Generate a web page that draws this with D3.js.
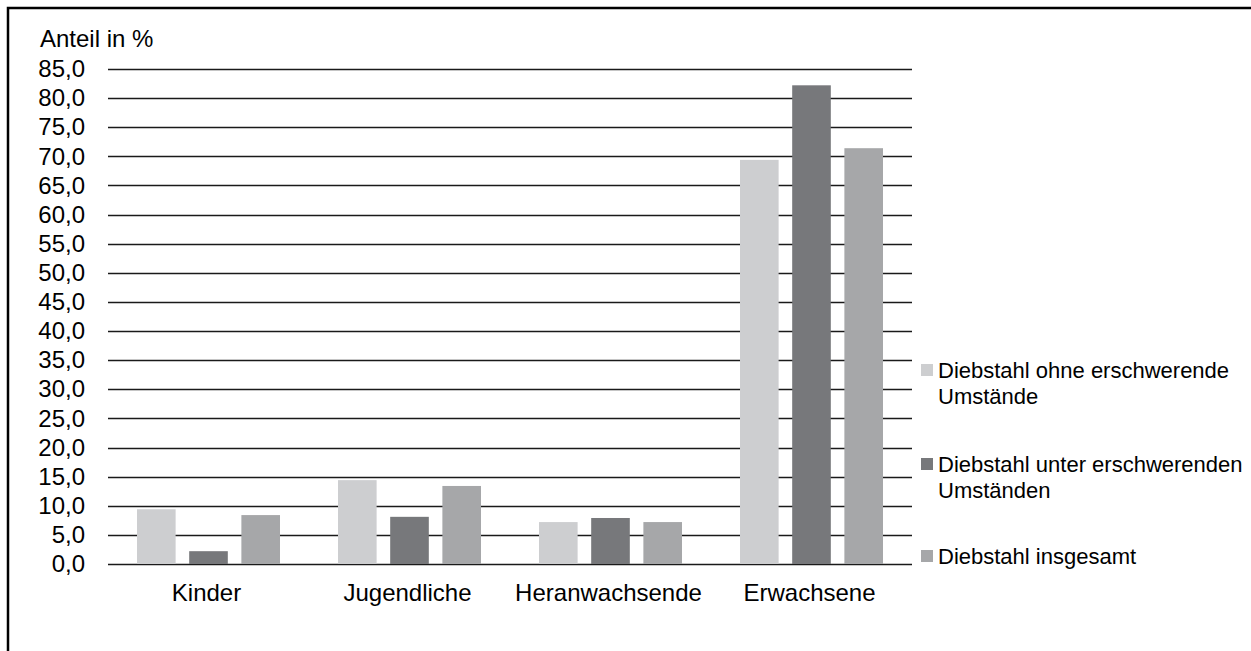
<!DOCTYPE html>
<html>
<head>
<meta charset="utf-8">
<script src="https://cdn.jsdelivr.net/npm/d3@7"></script>
<style>
  body { margin: 0; background: #fff; }
  svg { display: block; font-family: "Liberation Sans", Arial, sans-serif; }
</style>
</head>
<body>
<div id="chart"></div>
<script>
var categories = ["Kinder", "Jugendliche", "Heranwachsende", "Erwachsene"];
var seriesNames = [
    ["Diebstahl ohne erschwerende", "Umstände"],
    ["Diebstahl unter erschwerenden", "Umständen"],
    ["Diebstahl insgesamt"]
];
var ohne = [9.4, 14.4, 7.2, 69.4];
var unter = [2.2, 8.1, 7.9, 82.2];
var insgesamt = [8.4, 13.4, 7.2, 71.4];
var yTicks = d3.range(0, 85.1, 5);
var colors = ["#cdced0", "#77787b", "#a6a7a9"];

var width = 1251, height = 651;
var plot = {left: 108, right: 912, top: 69, bottom: 564};

var svg = d3.select("#chart").append("svg")
    .attr("width", width)
    .attr("height", height);

/* Frame */
svg.append("path")
    .attr("d", "M8,651 V8 H1251")
    .attr("fill", "none")
    .attr("stroke", "#000")
    .attr("stroke-width", 2.5);

/* Scales */
var y = d3.scaleLinear().domain([0, 85]).range([plot.bottom, plot.top]);
var x0 = d3.scaleBand().domain(categories).range([plot.left, plot.right]);
var x1 = d3.scaleBand().domain([0, 1, 2])
    .range([29, x0.bandwidth() - 29])
    .paddingInner(0.26);

/* Grid lines */
svg.append("g").selectAll("line")
    .data(yTicks)
    .enter().append("line")
        .attr("x1", plot.left)
        .attr("x2", plot.right)
        .attr("y1", function(d) { return Math.round(y(d)) + 0.5; })
        .attr("y2", function(d) { return Math.round(y(d)) + 0.5; })
        .attr("stroke", "#1a1a1a")
        .attr("stroke-width", 1.3);

/* Y axis labels */
var yAxis = d3.axisLeft(y)
    .tickValues(yTicks)
    .tickSize(0)
    .tickPadding(0)
    .tickFormat(function(d) { return d3.format(".1f")(d).replace(".", ","); });
var yg = svg.append("g")
    .attr("transform", "translate(85,0)")
    .call(yAxis);
yg.select(".domain").remove();
yg.selectAll("text")
    .attr("font-size", 24)
    .attr("font-family", "Liberation Sans, Arial, sans-serif")
    .attr("fill", "#000");

svg.append("text")
    .attr("x", 40)
    .attr("y", 47)
    .attr("font-size", 24)
    .text("Anteil in %");

/* Bars */
var rows = categories.map(function(c, i) {
    return {cat: c, vals: [ohne[i], unter[i], insgesamt[i]]};
});
var groups = svg.append("g").selectAll("g")
    .data(rows)
    .enter().append("g")
        .attr("transform", function(d) { return "translate(" + x0(d.cat) + ",0)"; });
groups.selectAll("rect")
    .data(function(d) { return d.vals; })
    .enter().append("rect")
        .attr("x", function(d, i) { return x1(i); })
        .attr("width", x1.bandwidth())
        .attr("y", function(d) { return y(d); })
        .attr("height", function(d) { return y(0) - y(d); })
        .attr("fill", function(d, i) { return colors[i]; });

/* X axis labels */
var xAxis = d3.axisBottom(x0).tickSize(0).tickPadding(0);
var xg = svg.append("g")
    .attr("transform", "translate(-2,584)")
    .call(xAxis);
xg.select(".domain").remove();
xg.selectAll("text")
    .attr("font-size", 24)
    .attr("font-family", "Liberation Sans, Arial, sans-serif")
    .attr("fill", "#000")
    .attr("dy", "0.71em");

/* Legend */
var legendY = [370, 464, 556];
var legend = svg.append("g").selectAll("g")
    .data(seriesNames)
    .enter().append("g")
        .attr("transform", function(d, i) { return "translate(921," + legendY[i] + ")"; });
legend.append("rect")
    .attr("x", 0)
    .attr("y", -6)
    .attr("width", 12)
    .attr("height", 12)
    .attr("fill", function(d, i) { return colors[i]; });
legend.append("text")
    .attr("font-size", 22)
    .selectAll("tspan")
    .data(function(d) { return d; })
    .enter().append("tspan")
        .attr("x", 17)
        .attr("y", function(d, i) { return 8 + i * 26; })
        .text(function(d) { return d; });
</script>
</body>
</html>
